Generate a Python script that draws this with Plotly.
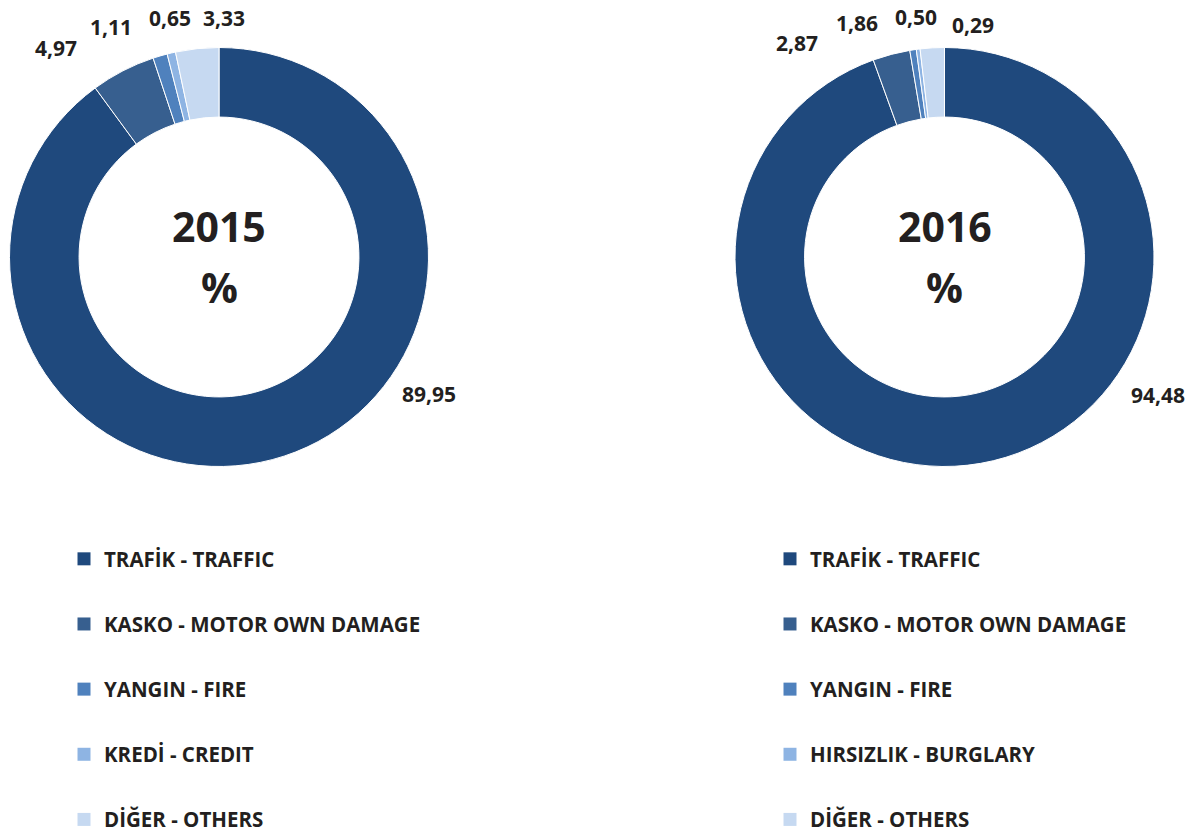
import plotly.graph_objects as go

# ---- data ----
labels_2015 = ["TRAFİK - TRAFFIC", "KASKO - MOTOR OWN DAMAGE", "YANGIN - FIRE", "KREDİ - CREDIT", "DİĞER - OTHERS"]
values_2015 = [89.95, 4.97, 1.11, 0.65, 3.33]

labels_2016 = ["TRAFİK - TRAFFIC", "KASKO - MOTOR OWN DAMAGE", "YANGIN - FIRE", "HIRSIZLIK - BURGLARY", "DİĞER - OTHERS"]
values_2016 = [94.48, 2.87, 0.50, 0.29, 1.86]

# order in which the data labels appear (left to right above the ring, then the big one)
label_order_2015 = [1, 2, 3, 4, 0]
label_order_2016 = [1, 4, 2, 3, 0]

colors = ["#1F497D", "#375F8F", "#4F81BD", "#8EB4E3", "#C6D9F1"]
TEXT = "#231F20"
FONT = "Open Sans"

W, H = 1193, 832


def px(x):
    return x / W


def py(y):
    return 1 - y / H


fig = go.Figure()

# donut domains (pixel boxes)
dom_2015 = dict(x=[px(9.5), px(428.5)], y=[py(466.5), py(47.5)])
dom_2016 = dict(x=[px(735), px(1154)], y=[py(466.5), py(47.5)])

for labs, vals, dom in [(labels_2015, values_2015, dom_2015), (labels_2016, values_2016, dom_2016)]:
    fig.add_trace(go.Pie(
        labels=labs, values=vals, domain=dom, hole=0.668, sort=False,
        direction="clockwise", rotation=0, textinfo="none", showlegend=False,
        marker=dict(colors=colors, line=dict(color="white", width=1)),
        hoverinfo="label+value",
    ))

# legend entries (dummy traces so rows can be spaced like the original)
for i, lab in enumerate(labels_2015):
    fig.add_trace(go.Scatter(x=[None], y=[None], mode="markers", name=lab,
                             marker=dict(symbol="square", size=13, color=colors[i]),
                             legend="legend", legendgroup="a%d" % i, showlegend=True))
for i, lab in enumerate(labels_2016):
    fig.add_trace(go.Scatter(x=[None], y=[None], mode="markers", name=lab,
                             marker=dict(symbol="square", size=13, color=colors[i]),
                             legend="legend2", legendgroup="b%d" % i, showlegend=True))


def fmt(v):
    return f"{v:.2f}".replace(".", ",")


# data label positions (pixel centres)
lbl_pos_2015 = [(56, 48), (111, 27), (170, 18), (224, 18), (429, 394)]
lbl_pos_2016 = [(797, 43), (857, 23), (916, 17), (973, 25), (1158, 395)]

annotations = []
for order, vals, pos in [(label_order_2015, values_2015, lbl_pos_2015),
                         (label_order_2016, values_2016, lbl_pos_2016)]:
    for idx, (x, y) in zip(order, pos):
        annotations.append(dict(x=px(x), y=py(y), xref="paper", yref="paper",
                                text=fmt(vals[idx]), showarrow=False,
                                xanchor="center", yanchor="middle",
                                font=dict(family=FONT, size=21, color=TEXT, weight="bold")))

# centre texts
for cx, year in [(219, "2015"), (944.5, "2016")]:
    annotations.append(dict(x=px(cx), y=py(226), xref="paper", yref="paper", text=year,
                            showarrow=False, xanchor="center", yanchor="middle",
                            font=dict(family=FONT, size=41, color=TEXT, weight="bold")))
    annotations.append(dict(x=px(cx), y=py(287), xref="paper", yref="paper", text="%",
                            showarrow=False, xanchor="center", yanchor="middle",
                            font=dict(family=FONT, size=41, color=TEXT, weight="bold")))

legend_style = dict(font=dict(family=FONT, size=20.5, color=TEXT, weight="bold"),
                    tracegroupgap=35.5, traceorder="grouped", bgcolor="rgba(0,0,0,0)",
                    xanchor="left", yanchor="top", itemclick=False, itemdoubleclick=False)

fig.update_layout(
    width=W, height=H, autosize=False,
    margin=dict(l=0, r=0, t=0, b=0, autoexpand=False),
    paper_bgcolor="white", plot_bgcolor="white",
    xaxis=dict(visible=False), yaxis=dict(visible=False),
    annotations=annotations,
    legend=dict(x=px(64), y=py(539), **legend_style),
    legend2=dict(x=px(770), y=py(539), **legend_style),
)

fig.write_html(
    "out.html",
    config={"responsive": False, "displayModeBar": False},
    post_script="document.body.style.margin='0';document.body.style.overflow='hidden';"
                "document.documentElement.style.overflow='hidden';",
)
